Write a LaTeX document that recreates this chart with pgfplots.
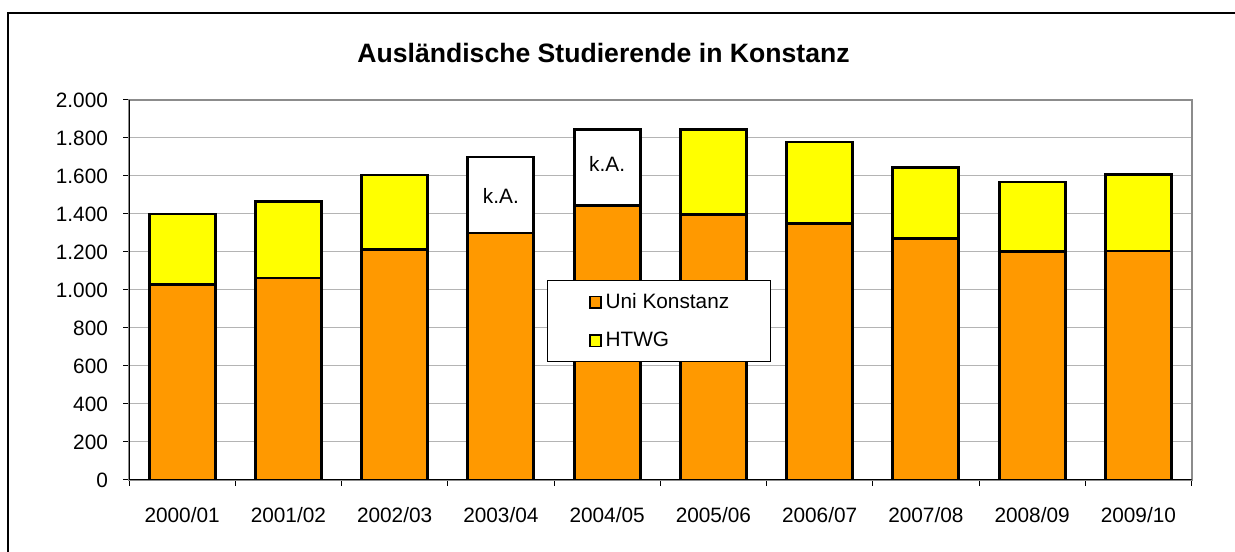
\documentclass[border=0pt]{standalone}
\usepackage{pgfplots}
\pgfplotsset{compat=1.18}
\usepackage{fontspec}
\setmainfont{Liberation Sans}
\definecolor{uniorange}{RGB}{255,153,0}
\definecolor{htwgyellow}{RGB}{255,255,0}
\definecolor{gridgray}{RGB}{180,180,180}
\definecolor{boxgray}{RGB}{140,140,140}
\begin{document}
\begin{tikzpicture}
\useasboundingbox (0,0) rectangle (617.5pt,275.5pt);
\draw[line width=0.6pt] (4pt,-5pt) -- (4pt,269pt) -- (625pt,269pt);
\node[font=\bfseries\fontsize{13.3}{16}\selectfont] at (301.75pt,249pt) {Ausländische Studierende in Konstanz};
\begin{axis}[
  at={(64.5pt,35.5pt)}, anchor=south west,
  scale only axis, width=531.25pt, height=190pt,
  ybar stacked, bar width=33pt,
  xmin=-0.5, xmax=9.5, ymin=0, ymax=2000,
  xtick={0,...,9},
  xticklabels={2000/01,2001/02,2002/03,2003/04,2004/05,2005/06,2006/07,2007/08,2008/09,2009/10},
  minor xtick={-0.5,0.5,...,9.5},
  ytick={0,200,...,2000},
  scaled y ticks=false,
  /pgf/number format/1000 sep={.},
  /pgf/number format/assume math mode=true,
  tick align=outside,
  xtick pos=bottom, ytick pos=left,
  major x tick style={draw=none},
  minor x tick style={black, line width=0.5pt},
  major tick length=3pt, minor tick length=3pt,
  y tick style={black, line width=0.5pt},
  ymajorgrids, grid style={gridgray, line width=0.5pt},
  axis line style={boxgray, line width=1pt},
  tick label style={font=\fontsize{10.4}{12}\selectfont},
  xticklabel style={yshift=-7pt},
  yticklabel style={xshift=-4pt},
  legend style={at={(0.393,0.525)}, anchor=north west, draw=black, line width=0.5pt, fill=white,
     font=\fontsize{10.4}{12}\selectfont, inner xsep=18.5pt, inner ysep=4pt, row sep=6.5pt,
     cells={anchor=west}},
  legend image code/.code={\path (0pt,0pt); \draw[#1, line width=0.9pt] (2.2pt,-2.8pt) rectangle (7.6pt,2.8pt);},
  every axis plot/.append style={draw=black, line width=1.4pt},
  after end axis/.code={
    \node[font=\fontsize{10.4}{12}\selectfont] at (axis cs:3,1495) {k.A.};
    \node[font=\fontsize{10.4}{12}\selectfont] at (axis cs:4,1665) {k.A.};
  },
]
\addplot[fill=uniorange] coordinates {(0,1030) (1,1063) (2,1212) (3,1300) (4,1446) (5,1398) (6,1352) (7,1272) (8,1202) (9,1205)};
\addplot[fill=htwgyellow] coordinates {(0,370) (1,402) (2,393) (3,0) (4,0) (5,448) (6,427) (7,372) (8,366) (9,402)};
\addplot[fill=white, forget plot] coordinates {(0,0) (1,0) (2,0) (3,400) (4,400) (5,0) (6,0) (7,0) (8,0) (9,0)};
\legend{Uni Konstanz, HTWG}
\draw[black, line width=0.6pt] (rel axis cs:0,1) -- (rel axis cs:0,0) -- (rel axis cs:1,0);
\end{axis}
\end{tikzpicture}
\end{document}
